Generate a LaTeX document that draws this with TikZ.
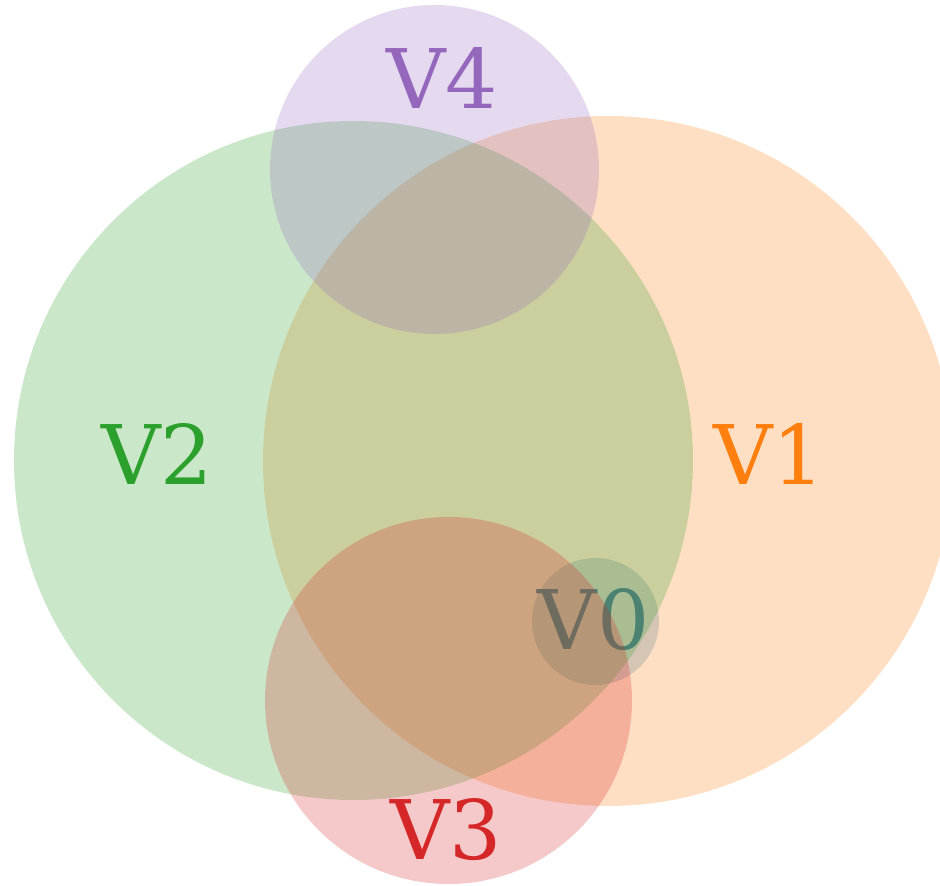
\documentclass[tikz,border=0pt]{standalone}
\usepackage{fontspec}
\setmainfont{DejaVu Serif}
\definecolor{tabblue}{HTML}{1F77B4}
\definecolor{taborange}{HTML}{FF7F0E}
\definecolor{tabgreen}{HTML}{2CA02C}
\definecolor{tabred}{HTML}{D62728}
\definecolor{tabpurple}{HTML}{9467BD}
\tikzset{
  setfill/.style={fill=#1, fill opacity=0.25},
  setlabel/.style={text=#1, inner sep=0pt, font=\fontsize{23.4}{28}\selectfont}
}
\begin{document}
\begin{tikzpicture}
  \useasboundingbox (0,0) rectangle (9.4,8.85);
  \clip (0,0) rectangle (9.4,8.85);
  % labels (under the sets)
  \node[setlabel=tabblue] (lbl0) at (5.935, 2.65) {V0};
  \node[setlabel=taborange] (lbl1) at (7.69, 4.31) {V1};
  \node[setlabel=tabgreen] (lbl2) at (1.57, 4.31) {V2};
  \node[setlabel=tabred] (lbl3) at (4.46, 0.55) {V3};
  \node[setlabel=tabpurple] (lbl4) at (4.42, 8.07) {V4};
  % sets
  \fill[setfill=tabblue] (5.955, 2.635) circle (0.635);
  \fill[setfill=taborange] (6.08, 4.24) circle (3.45);
  \fill[setfill=tabgreen] (3.535, 4.245) circle (3.395);
  \fill[setfill=tabred] (4.485, 1.845) circle (1.835);
  \fill[setfill=tabpurple] (4.345, 7.155) circle (1.645);
\end{tikzpicture}
\end{document}
